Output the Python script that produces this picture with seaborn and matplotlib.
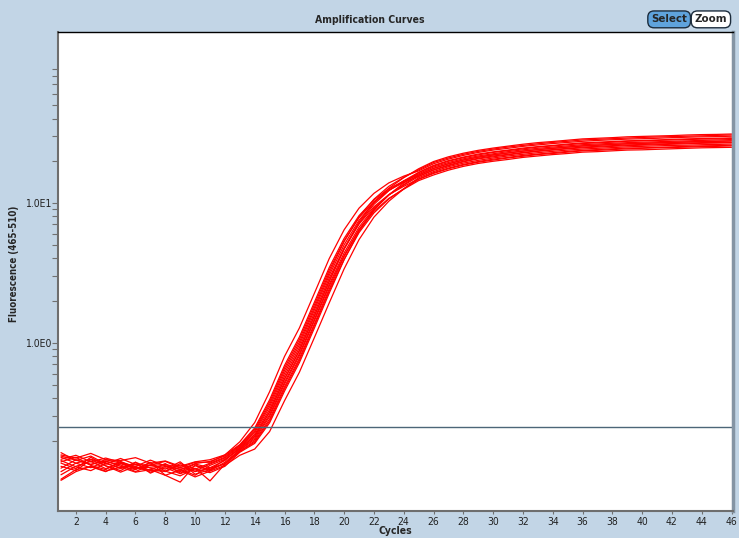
import pandas as pd
import seaborn as sns
import matplotlib.pyplot as plt

# qPCR amplification curves, one list per well (cycles 1..46)
cycles = list(range(1, 47))

well_a = [.158, .150, .162, .146, .144, .151, .138, .143, .131, .141, .146, .158,
          .196, .269, .447, .798, 1.276, 2.25, 3.99, 6.41, 9.15, 11.67, 13.87, 15.5, 16.9,
          19.0, 20.5, 21.8, 22.9, 23.8, 24.5, 25.3, 25.9, 26.5, 27.0, 27.5, 27.9, 28.2,
          28.5, 28.7, 28.9, 29.2, 29.4, 29.6, 29.7, 29.9]
well_b = [.127, .146, .135, .143, .131, .124, .139, .121, .137, .125, .138, .152,
          .183, .234, .363, .633, 1.01, 1.78, 3.16, 5.28, 7.93, 10.6, 13.1, 15.2, 17.2,
          19.4, 20.9, 22.2, 23.3, 24.2, 25.0, 25.7, 26.4, 27.0, 27.5, 28.1, 28.4, 28.7,
          29.0, 29.3, 29.5, 29.7, 29.9, 30.1, 30.3, 30.5]
well_c = [.114, .131, .142, .126, .139, .127, .123, .137, .117, .132, .124, .146,
          .175, .215, .320, .550, .880, 1.55, 2.75, 4.65, 7.12, 9.74, 12.2, 14.35, 16.5,
          18.5, 20.0, 21.2, 22.3, 23.1, 23.8, 24.6, 25.2, 25.7, 26.3, 26.8, 27.1, 27.4,
          27.7, 27.9, 28.1, 28.4, 28.6, 28.8, 28.9, 29.1]
well_d = [.152, .138, .147, .139, .126, .140, .127, .120, .134, .120, .127, .136,
          .168, .199, .285, .484, .774, 1.36, 2.42, 4.13, 6.44, 8.97, 11.35, 13.5, 15.8,
          17.6, 19.0, 20.2, 21.2, 22.0, 22.7, 23.4, 24.0, 24.5, 25.0, 25.5, 25.8, 26.1,
          26.4, 26.6, 26.8, 27.0, 27.2, 27.4, 27.5, 27.7]
well_e = [.104, .120, .131, .121, .129, .119, .124, .113, .123, .110, .121, .133,
          .157, .174, .232, .385, .616, 1.085, 1.925, 3.37, 5.45, 7.89, 10.26, 12.56, 15.1,
          16.7, 18.1, 19.2, 20.1, 20.9, 21.6, 22.2, 22.8, 23.3, 23.8, 24.2, 24.5, 24.8,
          25.1, 25.3, 25.5, 25.7, 25.8, 26.0, 26.1, 26.3]
well_f = [.147, .157, .141, .150, .140, .131, .145, .132, .124, .137, .142, .155,
          .185, .240, .377, .660, 1.056, 1.86, 3.30, 5.35, 7.83, 10.2, 12.3, 13.96, 15.5,
          17.2, 18.6, 19.8, 20.8, 21.6, 22.2, 22.9, 23.5, 24.0, 24.5, 25.0, 25.3, 25.6,
          25.9, 26.1, 26.3, 26.5, 26.7, 26.9, 27.0, 27.1]
well_g = [.138, .126, .152, .132, .122, .140, .117, .131, .120, .136, .128, .144,
          .178, .221, .334, .578, .924, 1.63, 2.89, 4.73, 7.04, 9.36, 11.43, 13.1, 14.8,
          16.4, 17.7, 18.8, 19.7, 20.5, 21.1, 21.8, 22.3, 22.8, 23.3, 23.7, 24.0, 24.3,
          24.6, 24.7, 24.9, 25.1, 25.3, 25.5, 25.6, 25.8]
well_h = [.120, .138, .128, .142, .134, .120, .134, .125, .141, .115, .124, .137,
          .171, .204, .297, .506, .810, 1.43, 2.53, 4.20, 6.39, 8.68, 10.75, 12.5, 14.4,
          15.8, 17.1, 18.2, 19.1, 19.8, 20.4, 21.1, 21.6, 22.1, 22.5, 23.0, 23.2, 23.5,
          23.8, 23.9, 24.1, 24.3, 24.5, 24.7, 24.8, 24.9]
well_i = [.144, .130, .122, .137, .128, .136, .122, .121, .112, .126, .118, .131,
          .165, .191, .268, .451, .722, 1.27, 2.26, 3.92, 6.24, 8.87, 11.4, 13.83, 16.4,
          18.3, 19.8, 21.0, 22.0, 22.9, 23.6, 24.3, 25.0, 25.5, 26.0, 26.5, 26.8, 27.1,
          27.5, 27.7, 27.9, 28.1, 28.3, 28.5, 28.6, 28.8]
well_j = [.155, .145, .135, .146, .138, .127, .134, .142, .128, .121, .136, .150,
          .180, .228, .349, .605, .968, 1.71, 3.03, 5.00, 7.50, 10.02, 12.3, 14.2, 16.1,
          18.0, 19.4, 20.6, 21.6, 22.4, 23.2, 23.9, 24.5, 25.0, 25.5, 26.0, 26.3, 26.6,
          26.9, 27.1, 27.3, 27.5, 27.7, 27.9, 28.1, 28.3]
well_k = [.106, .124, .130, .120, .137, .125, .140, .113, .101, .134, .122, .140,
          .172, .209, .306, .523, .836, 1.47, 2.61, 4.38, 6.69, 9.14, 11.4, 13.36, 15.4,
          17.1, 18.4, 19.6, 20.6, 21.3, 22.0, 22.7, 23.3, 23.8, 24.3, 24.7, 25.0, 25.3,
          25.6, 25.8, 26.0, 26.2, 26.4, 26.6, 26.7, 26.9]
well_l = [.141, .152, .133, .124, .142, .128, .129, .132, .125, .113, .133, .147,
          .175, .215, .320, .550, .880, 1.55, 2.75, 4.71, 7.28, 10.05, 12.7, 15.1, 17.5,
          19.7, 21.3, 22.6, 23.7, 24.6, 25.4, 26.2, 26.9, 27.4, 28.0, 28.6, 28.9, 29.2,
          29.6, 29.8, 30.0, 30.2, 30.5, 30.7, 30.8, 31.0]
well_m = [.131, .122, .146, .132, .119, .131, .119, .128, .116, .127, .103, .136,
          .167, .195, .276, .468, .748, 1.32, 2.34, 3.94, 6.12, 8.46, 10.64, 12.6, 14.7,
          16.2, 17.5, 18.6, 19.5, 20.2, 20.9, 21.5, 22.1, 22.5, 23.0, 23.5, 23.7, 24.0,
          24.3, 24.5, 24.7, 24.8, 25.0, 25.2, 25.3, 25.5]
well_n = [.164, .144, .155, .136, .149, .135, .133, .135, .128, .140, .140, .158,
          .187, .246, .391, .688, 1.10, 1.94, 3.44, 5.56, 8.09, 10.5, 12.6, 14.3, 15.8,
          17.6, 19.0, 20.2, 21.2, 22.0, 22.7, 23.4, 24.0, 24.5, 25.0, 25.5, 25.8, 26.1,
          26.4, 26.6, 26.8, 27.0, 27.2, 27.4, 27.5, 27.7]

wells = {'A': well_a, 'B': well_b, 'C': well_c, 'D': well_d, 'E': well_e,
         'F': well_f, 'G': well_g, 'H': well_h, 'I': well_i, 'J': well_j,
         'K': well_k, 'L': well_l, 'M': well_m, 'N': well_n}

threshold = 0.25
x_ticks = list(range(2, 47, 2))
y_major = [1, 10]
y_major_labels = ['1.0E0', '1.0E1']
y_minor = [0.2, 0.3, 0.4, 0.5, 0.6, 0.7, 0.8, 0.9,
           2, 3, 4, 5, 6, 7, 8, 9, 20, 30, 40, 50, 60, 70, 80, 90]

rows = []
for name, vals in wells.items():
    for c, v in zip(cycles, vals):
        rows.append((name, c, v))
df = pd.DataFrame(rows, columns=['well', 'cycle', 'fluor'])

sns.set_style('white')
plt.rcParams['font.family'] = ['DejaVu Sans']
plt.rcParams['font.stretch'] = 'condensed'

bg = '#c2d5e6'
fig = plt.figure(figsize=(7.39, 5.38), dpi=100, facecolor=bg)
ax = fig.add_axes([0.0785, 0.0502, 0.9134, 0.8903])
ax.set_facecolor('white')

sns.lineplot(data=df, x='cycle', y='fluor', units='well', estimator=None,
             color='#ff0000', lw=0.9, legend=False, ax=ax)
ax.axhline(threshold, color='#4c6678', lw=1)

ax.set_yscale('log')
ax.set_xlim(0.8, 46.1)
ax.set_ylim(0.0628, 166)
ax.set_xticks(x_ticks)
ax.set_xticklabels([str(t) for t in x_ticks], fontsize=7.5, color='#222222')
ax.set_yticks(y_major)
ax.set_yticklabels(y_major_labels, fontsize=7.5, color='#222222')
ax.set_yticks(y_minor, minor=True)
ax.set_yticklabels([], minor=True)
ax.tick_params(axis='y', which='both', direction='out', length=4, width=0.8,
               color='#707070', left=True, pad=1)
ax.tick_params(axis='x', which='both', direction='out', length=2, width=0.8,
               color='#707070', bottom=True, pad=2)
ax.set_xlabel('')
ax.set_ylabel('')

ax.spines['top'].set_color('black')
ax.spines['top'].set_linewidth(1)
for side in ['left', 'bottom']:
    ax.spines[side].set_color('#6e6e6e')
    ax.spines[side].set_linewidth(1.5)
ax.spines['right'].set_color('#8494a4')
ax.spines['right'].set_linewidth(2.5)

fig.text(0.5, 0.962, 'Amplification Curves', ha='center', va='center',
         fontsize=7.5, fontweight='bold')
fig.text(0.019, 0.51, 'Fluorescence (465-510)', ha='center', va='center',
         rotation=90, fontsize=7, fontweight='bold')
fig.text(0.535, 0.013, 'Cycles', ha='center', va='center',
         fontsize=7.5, fontweight='bold')

fig.text(0.9055, 0.964, 'Select', ha='center', va='center', fontsize=8.2,
         fontweight='bold',
         bbox=dict(boxstyle='round,pad=0.3,rounding_size=0.55', fc='#5fa3dc',
                   ec='#1c2c3c', lw=1))
fig.text(0.962, 0.964, 'Zoom', ha='center', va='center', fontsize=8.2,
         fontweight='bold',
         bbox=dict(boxstyle='round,pad=0.3,rounding_size=0.55', fc='white',
                   ec='#1c2c3c', lw=1))

fig.savefig('out.png', dpi=100, facecolor=bg)
